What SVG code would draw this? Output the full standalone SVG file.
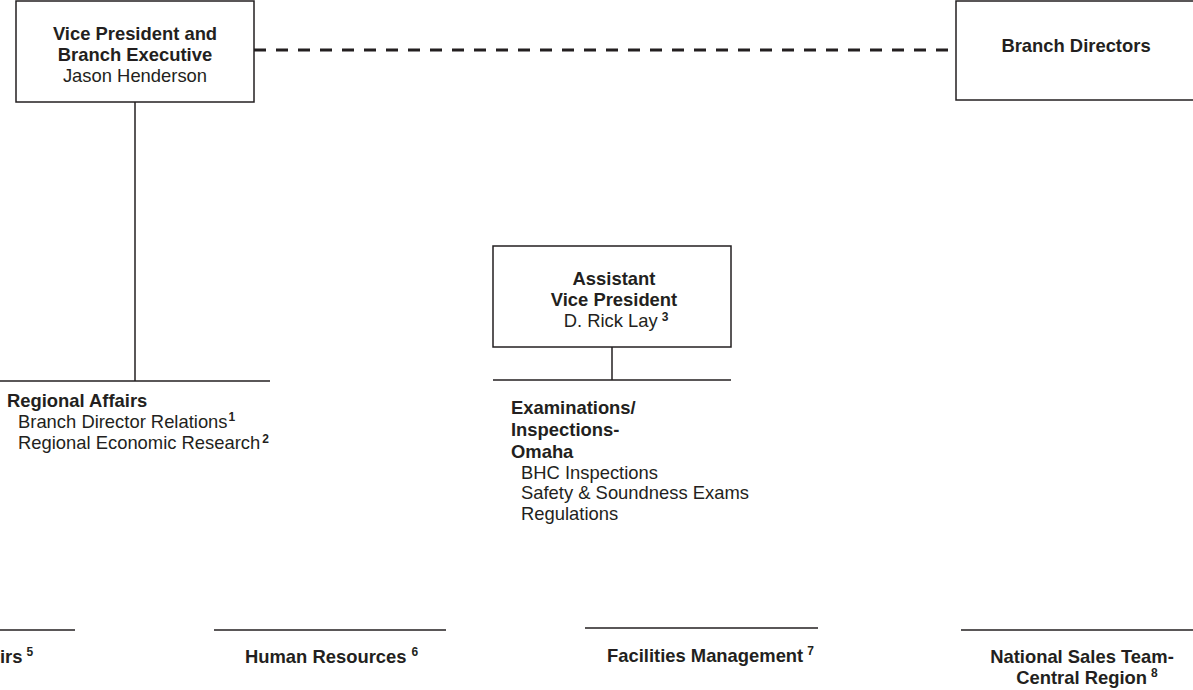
<svg xmlns="http://www.w3.org/2000/svg" width="1193" height="690" viewBox="0 0 1193 690">
<style>
  text { font-family: "Liberation Sans", Arial, Helvetica, sans-serif; font-size: 18.4px; fill: #231f20; }
  .b { font-weight: bold; }
  .c { text-anchor: middle; }
  .sup { font-size: 12px; font-weight: bold; }
  .box { fill: #ffffff; stroke: #231f20; stroke-width: 1.5; }
  .ln { stroke: #231f20; stroke-width: 1.5; fill: none; }
  .dash { stroke: #231f20; stroke-width: 3; stroke-dasharray: 12 10; fill: none; }
</style>
<rect width="1193" height="690" fill="#ffffff"/>

<g id="connectors">
  <line class="dash" x1="254" y1="50" x2="956" y2="50"/>
  <line class="ln" x1="135" y1="102" x2="135" y2="381"/>
  <line class="ln" x1="0" y1="381" x2="270" y2="381"/>
  <line class="ln" x1="612" y1="347" x2="612" y2="380"/>
  <line class="ln" x1="493" y1="380" x2="731" y2="380"/>
  <line class="ln" x1="0" y1="630" x2="75" y2="630"/>
  <line class="ln" x1="214" y1="630" x2="446" y2="630"/>
  <line class="ln" x1="585" y1="628" x2="818" y2="628"/>
  <line class="ln" x1="961" y1="630" x2="1193" y2="630"/>
</g>

<g id="vp-branch-executive">
  <rect class="box" x="16" y="1" width="238" height="101"/>
  <text class="b c" x="135" y="40">Vice President and</text>
  <text class="b c" x="135" y="61">Branch Executive</text>
  <text class="c" x="135" y="82">Jason Henderson</text>
</g>

<g id="branch-directors">
  <rect class="box" x="956" y="1" width="245" height="99"/>
  <text class="b c" x="1076" y="52">Branch Directors</text>
</g>

<g id="assistant-vp">
  <rect class="box" x="493" y="246" width="238" height="101"/>
  <text class="b c" x="614" y="285">Assistant</text>
  <text class="b c" x="614" y="306">Vice President</text>
  <text class="c" x="616" y="327">D. Rick Lay<tspan class="sup" dx="4" dy="-6">3</tspan></text>
</g>

<g id="regional-affairs">
  <text class="b" x="7" y="407">Regional Affairs</text>
  <text x="18" y="428">Branch Director Relations<tspan class="sup" dx="1" dy="-7">1</tspan></text>
  <text x="18" y="449">Regional Economic Research<tspan class="sup" dx="2" dy="-6">2</tspan></text>
</g>

<g id="examinations-omaha">
  <text class="b" x="511" y="414">Examinations/</text>
  <text class="b" x="511" y="436">Inspections-</text>
  <text class="b" x="511" y="458">Omaha</text>
  <text x="521" y="479">BHC Inspections</text>
  <text x="521" y="499">Safety &amp; Soundness Exams</text>
  <text x="521" y="520">Regulations</text>
</g>

<g id="public-affairs">
  <text class="b" x="0" y="663">irs<tspan class="sup" dx="4" dy="-7">5</tspan></text>
</g>

<g id="human-resources">
  <text class="b" x="245" y="663">Human Resources<tspan class="sup" dx="5" dy="-7">6</tspan></text>
</g>

<g id="facilities-management">
  <text class="b" x="607" y="662">Facilities Management<tspan class="sup" dx="4" dy="-7">7</tspan></text>
</g>

<g id="national-sales-team">
  <text class="b c" x="1082" y="663">National Sales Team-</text>
  <text class="b c" x="1087" y="684">Central Region<tspan class="sup" dx="4" dy="-7">8</tspan></text>
</g>
</svg>
